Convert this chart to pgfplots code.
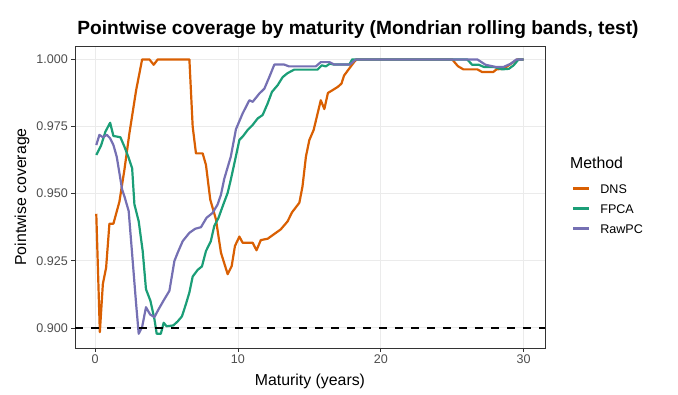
\documentclass[border=0pt]{standalone}
\usepackage{fontspec}
\setmainfont{Liberation Sans}
\usepackage{pgfplots}
\pgfplotsset{compat=1.18}
\definecolor{dns}{HTML}{D95F02}
\definecolor{fpca}{HTML}{1B9E77}
\definecolor{rawpc}{HTML}{7570B3}
\definecolor{gridc}{HTML}{EBEBEB}
\definecolor{framec}{HTML}{333333}
\definecolor{tickc}{HTML}{4D4D4D}

\begin{document}
\begin{tikzpicture}
\path[use as bounding box] (0,0) rectangle (678bp,395bp);
\begin{axis}[
  at={(75bp,47bp)}, anchor=south west,
  scale only axis, width=470bp, height=302bp,
  xmin=-1.41, xmax=31.5, ymin=0.8925, ymax=1.005,
  xtick={0,10,20,30}, ytick={0.9,0.925,0.95,0.975,1},
  yticklabel style={/pgf/number format/.cd,fixed,fixed zerofill,precision=3},
  /pgf/number format/assume math mode=true,
  tick pos=left, tick align=outside, major tick length=3.7bp,
  tick style={framec, line width=0.7bp},
  axis line style={framec, line width=0.7bp},
  grid=major, major grid style={gridc, line width=0.8bp},
  ticklabel style={font=\fontsize{12.6}{13}\selectfont, text=tickc},
  xlabel={Maturity (years)}, ylabel={Pointwise coverage},
  label style={font=\fontsize{15.9}{17}\selectfont},
  xlabel style={at={(axis description cs:0.5,-0.109)}, anchor=center},
  ylabel style={at={(axis description cs:-0.1128,0.5)}, anchor=center},
  legend style={at={(1.0574,0.5436)}, anchor=north west, draw=none, fill=none,
    inner sep=0pt, row sep=10.9bp, column sep=10bp,
    nodes={inner sep=0pt, text height=9.1bp, text depth=0bp},
    font=\fontsize{12.6}{13}\selectfont},
  legend cell align=left,
  legend image code/.code={\draw[#1] (0bp,0bp) -- (16bp,0bp);},
  every axis plot/.append style={line width=2.2bp, line join=round},
]
\addplot[dns] coordinates {
(0.08,0.9425)(0.33,0.8984)(0.54,0.9163)(0.77,0.9225)(1.0,0.9388)(1.28,0.9388)
(1.7,0.947)(2.05,0.9589)(2.4,0.9725)(2.87,0.9885)(3.29,1.0)(3.8,1.0)(4.1,0.998)
(4.38,1.0)(6.6,1.0)(6.83,0.975)(7.06,0.965)(7.53,0.965)(7.76,0.9607)(8.06,0.9478)
(8.46,0.9404)(8.81,0.928)(9.28,0.92)(9.56,0.923)(9.79,0.9305)(10.1,0.934)
(10.33,0.9317)(11.03,0.9317)(11.3,0.9289)(11.6,0.9327)(12.08,0.9332)(12.5,0.9348)
(13.0,0.9367)(13.48,0.9397)(13.78,0.943)(14.3,0.9466)(14.52,0.9527)(14.76,0.9638)
(15.0,0.97)(15.3,0.9737)(15.8,0.9848)(16.05,0.9815)(16.3,0.9875)(16.7,0.9888)
(17.0,0.9898)(17.25,0.991)(17.43,0.994)(17.78,0.9965)(18.13,0.999)(18.3,1.0)
(25.0,1.0)(25.4,0.9975)(25.78,0.9963)(26.76,0.9963)(27.1,0.9953)(27.88,0.9953)
(28.1,0.9963)(28.6,0.9965)(29.56,1.0)(30,1.0)};
\addlegendentry{DNS}
\addplot[fpca] coordinates {
(0.08,0.9644)(0.42,0.968)(0.72,0.9731)(1.05,0.9764)(1.28,0.9715)(1.77,0.971)
(2.05,0.9675)(2.33,0.9636)(2.59,0.9595)(2.75,0.946)(3.05,0.9397)(3.33,0.9286)
(3.56,0.9144)(3.87,0.9101)(4.15,0.9033)(4.31,0.8978)(4.6,0.8978)(4.8,0.9019)
(5.0,0.9006)(5.47,0.9009)(5.78,0.9024)(6.08,0.9043)(6.36,0.9089)(6.6,0.9132)
(6.83,0.9191)(7.18,0.9216)(7.48,0.9229)(7.76,0.9286)(8.1,0.9323)(8.34,0.9379)
(8.64,0.941)(8.93,0.9453)(9.28,0.9503)(9.5,0.9552)(9.86,0.964)(10.1,0.97)
(10.37,0.9715)(10.68,0.9737)(11.03,0.9756)(11.38,0.978)(11.73,0.9793)(12.08,0.9836)
(12.38,0.9879)(12.78,0.9904)(13.13,0.9934)(13.48,0.9949)(13.94,0.9962)(15.57,0.9962)
(15.87,0.9978)(16.15,0.9974)(16.43,0.9984)(16.7,0.9981)(17.8,0.9981)(18.0,1.0)
(26.05,1.0)(26.4,0.998)(26.87,0.998)(27.22,0.9972)(27.92,0.9972)(28.5,0.9963)
(28.97,0.9965)(29.3,0.9978)(29.65,1.0)(30,1.0)};
\addlegendentry{FPCA}
\addplot[rawpc] coordinates {
(0.08,0.9681)(0.3,0.9719)(0.54,0.971)(0.82,0.9719)(1.05,0.9706)(1.28,0.9681)
(1.51,0.9638)(1.7,0.9577)(1.89,0.9515)(2.05,0.949)(2.35,0.9435)(2.63,0.9249)
(2.87,0.9089)(3.05,0.8978)(3.29,0.9003)(3.56,0.9077)(3.85,0.905)(4.15,0.904)
(4.45,0.907)(4.85,0.9107)(5.2,0.9138)(5.55,0.9249)(5.78,0.928)(6.13,0.9323)
(6.6,0.9354)(7.0,0.9369)(7.41,0.9375)(7.8,0.941)(8.22,0.9428)(8.57,0.9459)
(8.81,0.9496)(9.04,0.9555)(9.5,0.9638)(9.86,0.974)(10.33,0.9799)(10.8,0.9848)
(11.03,0.9842)(11.5,0.9873)(11.85,0.9891)(12.2,0.9935)(12.55,0.9981)(13.23,0.9981)
(13.58,0.9974)(15.45,0.9974)(15.8,0.999)(16.4,0.999)(16.74,0.9981)(17.85,0.9981)
(18.25,1.0)(26.76,1.0)(27.34,0.998)(28.04,0.9972)(28.6,0.9972)(29.1,0.9984)
(29.5,1.0)(30,1.0)};
\addlegendentry{RawPC}
\addplot[black, line width=1.4bp, dash pattern=on 8bp off 8bp, forget plot]
  coordinates {(-1.41,0.9)(31.5,0.9)};
\end{axis}
\node[anchor=center, font=\fontsize{19.2}{21}\selectfont\bfseries] at (358bp,365bp)
  {Pointwise coverage by maturity (Mondrian rolling bands, test)};
\node[anchor=west, font=\fontsize{15.9}{17}\selectfont, inner sep=0pt] at (570bp,232bp) {Method};
\end{tikzpicture}
\end{document}
